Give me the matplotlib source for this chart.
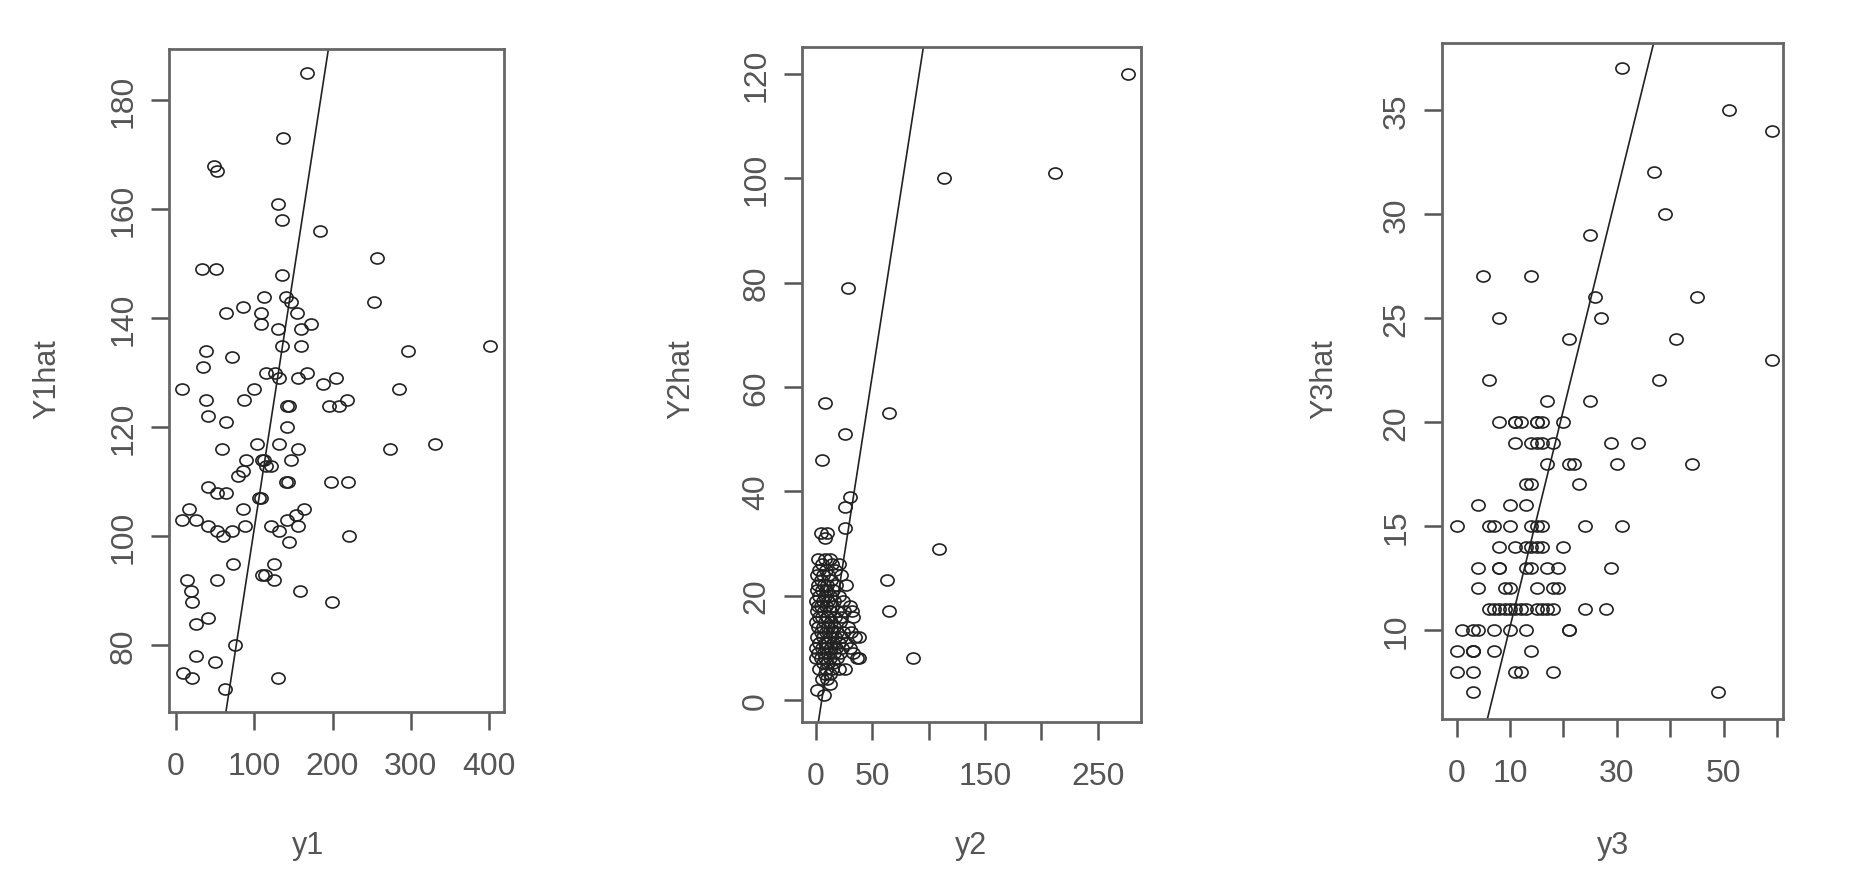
import matplotlib
matplotlib.use("Agg")
import matplotlib.pyplot as plt
from matplotlib.path import Path
from matplotlib.transforms import Affine2D

pts1 = [(168, 185), (137, 173), (49, 168), (53, 167), (130, 161), (135, 158), (184, 156), (257, 151),
        (33, 149), (51, 149), (136, 148), (113, 144), (140, 144), (147, 143), (253, 143), (64, 141),
        (85, 142), (109, 141), (109, 139), (154, 141), (173, 139), (130, 138), (160, 138), (135, 135),
        (160, 135), (297, 134), (401, 135), (38, 134), (71, 133), (34, 131), (115, 130), (127, 130),
        (132, 129), (156, 129), (168, 130), (188, 128), (204, 129), (7, 127), (100, 127), (285, 127),
        (38, 125), (87, 125), (142, 124), (145, 124), (196, 124), (208, 124), (218, 125), (41, 122),
        (64, 121), (142, 120), (59, 116), (103, 117), (132, 117), (156, 116), (274, 116), (331, 117),
        (90, 114), (85, 112), (79, 111), (110, 114), (113, 114), (115, 113), (121, 113), (147, 114),
        (141, 110), (143, 110), (198, 110), (220, 110), (41, 109), (53, 108), (64, 108), (106, 107),
        (108, 107), (17, 105), (7, 103), (25, 103), (41, 102), (53, 101), (60, 100), (71, 101),
        (86, 105), (88, 102), (122, 102), (131, 101), (142, 103), (153, 104), (164, 105), (156, 102),
        (144, 99), (221, 100), (73, 95), (125, 95), (110, 93), (114, 93), (125, 92), (14, 92),
        (19, 90), (21, 88), (52, 92), (158, 90), (199, 88), (26, 84), (41, 85), (76, 80),
        (26, 78), (50, 77), (9, 75), (20, 74), (130, 74), (63, 72)]

pts2 = [(277, 120), (114, 100), (212, 101), (28, 79), (8, 57), (65, 55), (26, 51), (5, 46),
        (30, 39), (26, 37), (26, 33), (4, 32), (8, 31), (10, 32), (109, 29), (63, 23), (65, 17),
        (86, 8), (27, 22), (32, 17), (38, 12), (38, 8), (26, 6), (1, 2), (12, 3), (7, 1),
        # dense cluster near the origin
        (2, 27), (8, 27), (12, 27), (5, 26), (14, 26), (20, 26), (3, 25), (9, 25), (17, 25),
        (1, 24), (6, 24), (11, 24), (22, 24), (4, 23), (13, 23), (2, 22), (7, 22), (10, 22),
        (18, 22), (1, 21), (5, 21), (9, 21), (15, 21), (3, 20), (8, 20), (12, 20), (20, 20),
        (0, 19), (6, 19), (11, 19), (16, 19), (24, 19), (2, 18), (4, 18), (9, 18), (14, 18),
        (30, 18), (1, 17), (7, 17), (12, 17), (19, 17), (25, 17), (3, 16), (5, 16), (10, 16),
        (17, 16), (22, 16), (33, 16), (0, 15), (8, 15), (13, 15), (21, 15), (2, 14), (6, 14),
        (11, 14), (16, 14), (28, 14), (4, 13), (9, 13), (14, 13), (19, 13), (24, 13), (31, 13),
        (1, 12), (6, 12), (12, 12), (17, 12), (22, 12), (35, 12), (3, 11), (8, 11), (10, 11),
        (15, 11), (20, 11), (27, 11), (0, 10), (5, 10), (9, 10), (13, 10), (18, 10), (23, 10),
        (30, 10), (2, 9), (7, 9), (11, 9), (16, 9), (21, 9), (33, 9), (0, 8), (4, 8), (8, 8),
        (12, 8), (19, 8), (36, 8), (6, 7), (10, 7), (15, 7), (3, 6), (9, 6), (14, 6), (20, 6),
        (8, 5), (12, 5), (5, 4), (10, 4)]

pts3 = [(31, 37), (51, 35), (59, 34), (37, 32), (39, 30), (25, 29), (5, 27), (14, 27), (26, 26),
        (45, 26), (8, 25), (27, 25), (21, 24), (41, 24), (59, 23), (6, 22), (38, 22), (17, 21),
        (25, 21), (8, 20), (11, 20), (11, 20), (12, 20), (15, 20), (15, 20), (16, 20), (20, 20),
        (11, 19), (14, 19), (15, 19), (16, 19), (18, 19), (29, 19), (34, 19),
        (17, 18), (21, 18), (22, 18), (30, 18), (44, 18), (13, 17), (14, 17), (23, 17),
        (4, 16), (10, 16), (13, 16), (0, 15), (6, 15), (7, 15), (10, 15), (14, 15), (15, 15),
        (16, 15), (24, 15), (31, 15), (8, 14), (11, 14), (13, 14), (14, 14), (15, 14), (16, 14),
        (20, 14), (4, 13), (8, 13), (8, 13), (13, 13), (14, 13), (17, 13), (19, 13), (29, 13),
        (4, 12), (9, 12), (10, 12), (15, 12), (18, 12), (19, 12),
        (6, 11), (7, 11), (8, 11), (9, 11), (10, 11), (11, 11), (12, 11), (13, 11), (15, 11),
        (16, 11), (17, 11), (18, 11), (24, 11), (28, 11),
        (1, 10), (3, 10), (4, 10), (7, 10), (10, 10), (13, 10), (21, 10), (21, 10),
        (0, 9), (3, 9), (3, 9), (3, 9), (7, 9), (14, 9), (0, 8), (3, 8), (11, 8), (12, 8), (18, 8),
        (3, 7), (49, 7)]

# fitted line (intercept, slope) per panel
line1 = (8.65, 0.928)
line2 = (-7.1, 1.388)
line3 = (-0.27, 1.043)

xlabels = ["y1", "y2", "y3"]
ylabels = ["Y1hat", "Y2hat", "Y3hat"]
xticks = [[0, 100, 200, 300, 400], [0, 50, 100, 150, 200, 250], [0, 10, 20, 30, 40, 50, 60]]
xticklabels = [["0", "100", "200", "300", "400"], ["0", "50", "", "150", "", "250"],
               ["0", "10", "", "30", "", "50", ""]]
yticks = [[80, 100, 120, 140, 160, 180], [0, 20, 40, 60, 80, 100, 120], [10, 15, 20, 25, 30, 35]]

# layout, in figure pixels
W, H = 1857, 878
boxes = [(169.3, 504, 50, 713), (801.7, 1141, 48.3, 722.7), (1442.3, 1783.3, 44, 720)]
xlims = [(-8.6, 419.2), (-12.7, 288.4), (-2.7, 61.2)]
ylims = [(67.8, 189.4), (-4.16, 125.1), (5.72, 38.22)]
ylab_x = [47, 681, 1324]
xlab_x = [308, 971, 1613]

plt.rcParams['font.family'] = ['Liberation Sans', 'DejaVu Sans']
grey = "#555555"
ring = Path.unit_circle().transformed(Affine2D().scale(1.2, 1.0))

fig = plt.figure(figsize=(W / 100, H / 100), dpi=100)
for i, pts in enumerate([pts1, pts2, pts3]):
    l, r, t, b = boxes[i]
    ax = fig.add_axes([l / W, 1 - b / H, (r - l) / W, (b - t) / H])
    xs = [p[0] for p in pts]
    ys = [p[1] for p in pts]
    ax.plot(xs, ys, linestyle="none", marker=ring, markersize=9.5,
            markerfacecolor="none", markeredgecolor="#222222", markeredgewidth=1.2)
    icpt, slope = [line1, line2, line3][i]
    ax.axline((0, icpt), slope=slope, color="#222222", linewidth=1.2)
    ax.set_xlim(*xlims[i])
    ax.set_ylim(*ylims[i])
    ax.set_xticks(xticks[i])
    ax.set_xticklabels(xticklabels[i])
    ax.set_yticks(yticks[i])
    ax.set_yticklabels([str(v) for v in yticks[i]], rotation=90, va="center")
    for s in ax.spines.values():
        s.set_color("#666666")
        s.set_linewidth(2.0)
    ax.tick_params(length=13, width=1.8, color="#555555", labelcolor=grey, labelsize=23)
    ax.tick_params(axis="x", pad=15)
    ax.tick_params(axis="y", pad=9)
    fig.text(ylab_x[i] / W, 1 - 379 / H, ylabels[i], rotation=90, ha="center", va="center",
             fontsize=22, color=grey)
    fig.text(xlab_x[i] / W, 1 - 846 / H, xlabels[i], ha="center", va="center",
             fontsize=22, color=grey)

fig.savefig("out.png", dpi=100)
